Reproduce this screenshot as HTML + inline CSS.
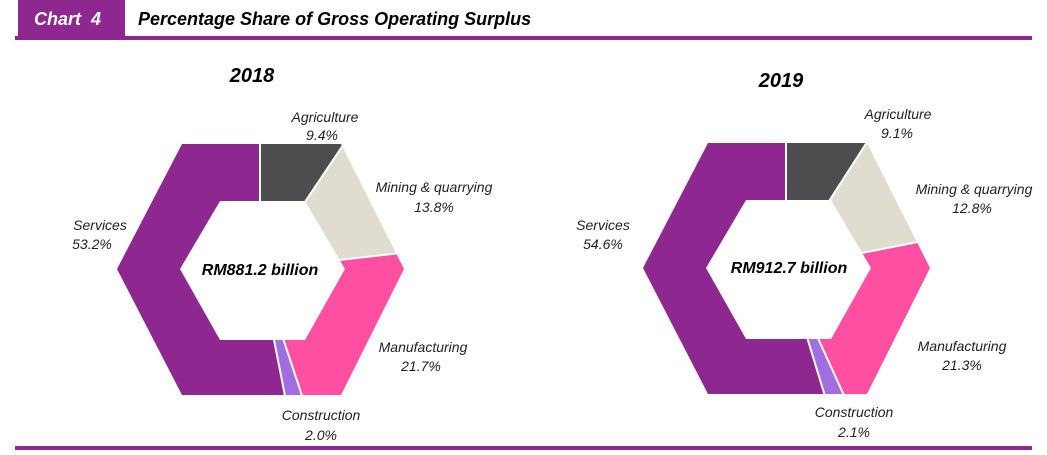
<!DOCTYPE html>
<html><head><meta charset="utf-8"><style>
body{margin:0;background:#fff;}
svg{display:block;font-family:"Liberation Sans",Arial,sans-serif;}
.l{font-style:italic;font-size:14px;fill:#222;text-anchor:middle;}
</style></head><body>
<svg width="1047" height="455" viewBox="0 0 1047 455">
<defs>
<clipPath id="ring"><path clip-rule="evenodd" d="M-78,-125 L81,-125 L144,0 L81,126 L-78,126 L-143,0 Z M-40,-68 L45,-68 L85,0 L45,71 L-40,71 L-80,0 Z"/></clipPath>
</defs>
<rect x="18" y="0" width="107" height="37" fill="#8e278f"/>
<text x="34" y="25" fill="#fff" font-size="18" font-weight="bold" font-style="italic" xml:space="preserve">Chart  4</text>
<text x="138" y="25" fill="#000" font-size="18" font-weight="bold" font-style="italic">Percentage Share of Gross Operating Surplus</text>
<rect x="15" y="36" width="1017" height="4" fill="#8e278f"/>
<rect x="15" y="446" width="1017" height="4" fill="#8e278f"/>

<text x="252" y="82" font-size="20" font-weight="bold" font-style="italic" text-anchor="middle">2018</text>
<text x="781" y="87" font-size="20" font-weight="bold" font-style="italic" text-anchor="middle">2019</text>

<g transform="translate(260,269)">
<g clip-path="url(#ring)"><g transform="rotate(-90)" fill="none" stroke-width="200">
<circle r="100" stroke="#4d4d4f" stroke-dasharray="59.06 700" stroke-dashoffset="0"/>
<circle r="100" stroke="#e0ddd0" stroke-dasharray="86.71 700" stroke-dashoffset="-59.06"/>
<circle r="100" stroke="#ff4fa3" stroke-dasharray="136.35 700" stroke-dashoffset="-145.77"/>
<circle r="100" stroke="#a06ee0" stroke-dasharray="12.57 700" stroke-dashoffset="-282.12"/>
<circle r="100" stroke="#8e278f" stroke-dasharray="334.3 700" stroke-dashoffset="-294.69"/>
</g>
<g stroke="#fff" stroke-width="2">
<line x1="0" y1="0" x2="0" y2="-200"/>
<line x1="0" y1="0" x2="0" y2="-200" transform="rotate(33.84)"/>
<line x1="0" y1="0" x2="0" y2="-200" transform="rotate(83.52)"/>
<line x1="0" y1="0" x2="0" y2="-200" transform="rotate(161.64)"/>
<line x1="0" y1="0" x2="0" y2="-200" transform="rotate(168.84)"/>
</g></g>
<text x="0" y="6" font-size="16" font-weight="bold" font-style="italic" text-anchor="middle">RM881.2 billion</text>
</g>

<g transform="translate(786,268)">
<g clip-path="url(#ring)"><g transform="rotate(-90)" fill="none" stroke-width="200">
<circle r="100" stroke="#4d4d4f" stroke-dasharray="57.18 700" stroke-dashoffset="0"/>
<circle r="100" stroke="#e0ddd0" stroke-dasharray="80.42 700" stroke-dashoffset="-57.18"/>
<circle r="100" stroke="#ff4fa3" stroke-dasharray="133.83 700" stroke-dashoffset="-137.6"/>
<circle r="100" stroke="#a06ee0" stroke-dasharray="13.19 700" stroke-dashoffset="-271.43"/>
<circle r="100" stroke="#8e278f" stroke-dasharray="343.8 700" stroke-dashoffset="-284.62"/>
</g>
<g stroke="#fff" stroke-width="2">
<line x1="0" y1="0" x2="0" y2="-200"/>
<line x1="0" y1="0" x2="0" y2="-200" transform="rotate(32.76)"/>
<line x1="0" y1="0" x2="0" y2="-200" transform="rotate(78.84)"/>
<line x1="0" y1="0" x2="0" y2="-200" transform="rotate(155.52)"/>
<line x1="0" y1="0" x2="0" y2="-200" transform="rotate(163.08)"/>
</g></g>
<text x="3" y="5" font-size="16" font-weight="bold" font-style="italic" text-anchor="middle">RM912.7 billion</text>
</g>

<text class="l" x="325" y="122">Agriculture</text><text class="l" x="322" y="140">9.4%</text>
<text class="l" x="434" y="192">Mining &amp; quarrying</text><text class="l" x="434" y="212">13.8%</text>
<text class="l" x="100" y="230">Services</text><text class="l" x="92" y="249">53.2%</text>
<text class="l" x="423" y="352">Manufacturing</text><text class="l" x="421" y="371">21.7%</text>
<text class="l" x="321" y="420">Construction</text><text class="l" x="321" y="440">2.0%</text>

<text class="l" x="898" y="119">Agriculture</text><text class="l" x="897" y="138">9.1%</text>
<text class="l" x="974" y="194">Mining &amp; quarrying</text><text class="l" x="972" y="213">12.8%</text>
<text class="l" x="603" y="230">Services</text><text class="l" x="603" y="249">54.6%</text>
<text class="l" x="962" y="351">Manufacturing</text><text class="l" x="962" y="370">21.3%</text>
<text class="l" x="854" y="417">Construction</text><text class="l" x="854" y="437">2.1%</text>
</svg>
</body></html>
